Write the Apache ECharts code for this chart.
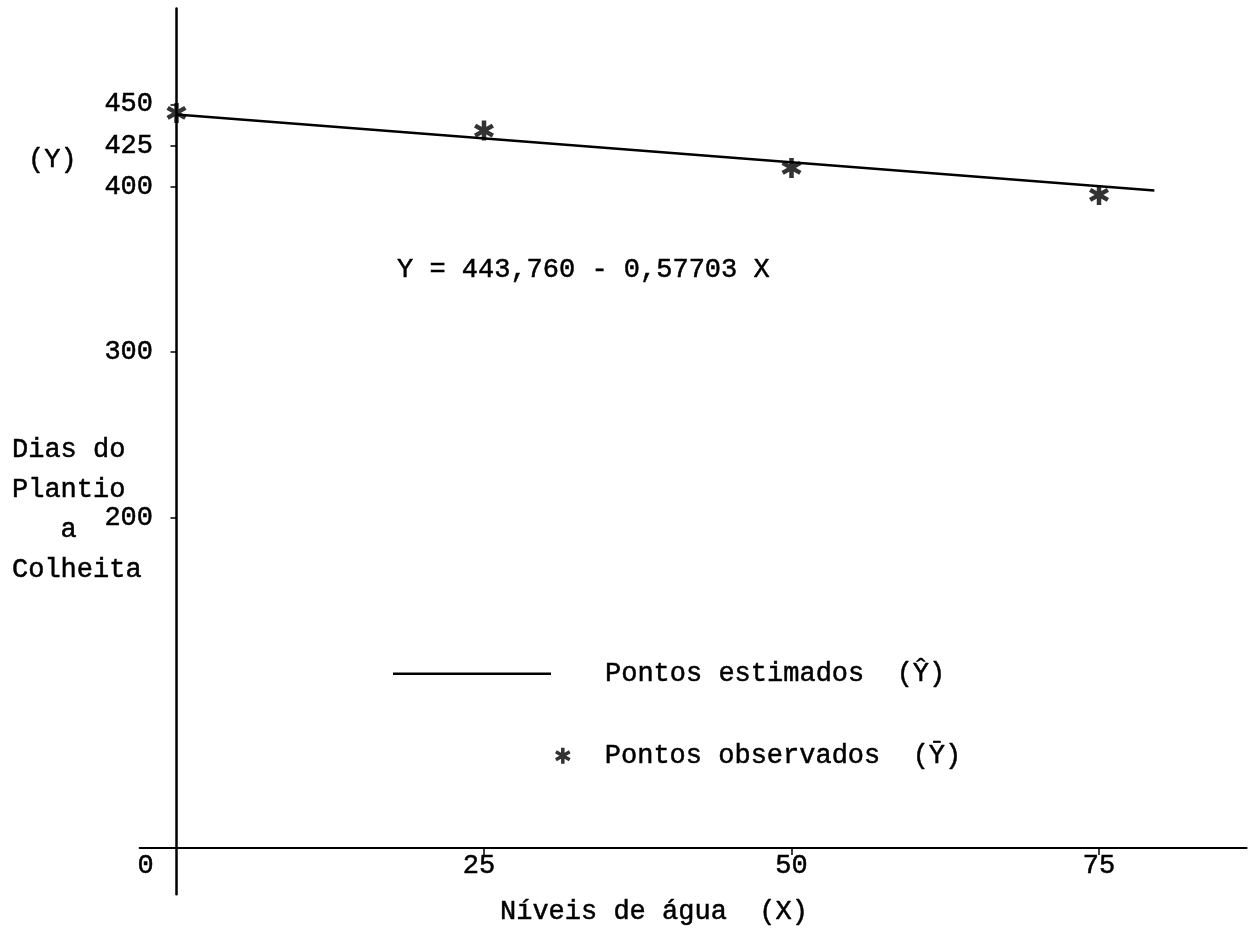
<!DOCTYPE html>
<html><head><meta charset="utf-8">
<script src="https://cdn.jsdelivr.net/npm/echarts@6/dist/echarts.min.js"></script>
<style>html,body{margin:0;padding:0;background:#fff}#c{width:1251px;height:942px}</style>
</head><body><div id="c"></div>
<script>
// ---- data ----
const xTickValues = [0, 25, 50, 75];
const yTickValues = [200, 300, 400, 425, 450];
const observedX = [0, 25, 50, 75];
const observedY = [444.8, 434.1, 411.5, 395.2];
const estimatedX = [0, 79.5];
const estimatedY = [443.8, 397.9];
const seriesNames = ['Pontos estimados  (\u0176)', 'Pontos observados  (\u0232)'];
const equationText = 'Y = 443,760 - 0,57703 X';
const xTitle = 'N\u00edveis de \u00e1gua  (X)';
const yTitleTop = '(Y)';
const yTitleLines = ['Dias do', 'Plantio', '   a', 'Colheita'];

const FONT = "'Liberation Mono', 'DejaVu Sans Mono', monospace";
const INK = '#000';
const FS = 27;
const STAR = 'path://M-2.2,10 L2.2,10 L2.2,-10 L-2.2,-10 Z M7.56,6.91 L9.76,3.09 L-7.56,-6.91 L-9.76,-3.09 Z M-9.76,3.09 L-7.56,6.91 L9.76,-3.09 L7.56,-6.91 Z';

const zip = (a, b) => a.map((v, i) => [v, b[i]]);
const ink = { fontFamily: FONT, fontSize: FS, color: INK, fontWeight: 'normal', textBorderColor: INK, textBorderWidth: 0.5 };
const txt = (extra) => Object.assign({}, ink, extra || {});

const chart = echarts.init(document.getElementById('c'), null, { renderer: 'canvas' });
chart.setOption({
  backgroundColor: '#fff',
  animation: false,
  title: [
    { text: yTitleTop, left: 28, top: 146, padding: 0, textStyle: txt() },
    { text: yTitleLines.join('\n'), left: 12, top: 430, padding: 0, textStyle: txt({ lineHeight: 40 }) },
    { text: equationText, left: 397, top: 256, padding: 0, textStyle: txt() },
    { text: xTitle, left: 500, top: 898, padding: 0, textStyle: txt() }
  ],
  legend: [
    {
      data: [{ name: seriesNames[0], icon: 'rect' }], left: 393, top: 660, padding: 0, itemWidth: 158, itemHeight: 2.5,
      selectedMode: false, formatter: n => '{a|' + n + '}',
      textStyle: txt({ rich: { a: txt({ padding: [0, 0, 0, 49] }) } })
    },
    {
      data: [seriesNames[1]], left: 555, top: 742, padding: 0, itemWidth: 16, itemHeight: 16,
      selectedMode: false, formatter: n => '{a|' + n + '}',
      textStyle: txt({ rich: { a: txt({ padding: [0, 0, 0, 29] }) } })
    }
  ],
  grid: { left: 139.6, right: 4.4, top: 8.5, bottom: 47.8, containLabel: false, outerBoundsMode: 'none' },
  xAxis: {
    type: 'value', min: -3, max: 87,
    axisLine: { show: true, onZero: true, lineStyle: { color: INK, width: 2 } },
    axisTick: { show: true, length: 7, customValues: xTickValues.filter(v => v !== 0), lineStyle: { color: INK, width: 1.5 } },
    axisLabel: Object.assign({
      customValues: xTickValues, margin: -42,
      formatter: v => v === 0 ? '{z|0}' : (v === 25 ? '{t|25}' : String(v)),
      rich: {
        z: txt({ padding: [0, 62, 0, 0] }),
        t: txt({ padding: [0, 10, 0, 0] })
      }
    }, ink),
    splitLine: { show: false }
  },
  yAxis: {
    type: 'value', min: -28, max: 508,
    axisLine: { show: true, onZero: true, lineStyle: { color: INK, width: 2.5 } },
    axisTick: { show: true, length: 6, customValues: yTickValues, lineStyle: { color: INK, width: 1.5 } },
    axisLabel: Object.assign({ customValues: yTickValues, margin: -13.4 }, ink),
    splitLine: { show: false }
  },
  series: [
    {
      name: seriesNames[0], type: 'line', data: zip(estimatedX, estimatedY),
      symbol: 'none', lineStyle: { color: INK, width: 2.5 }, itemStyle: { color: INK }, silent: true, z: 2
    },
    {
      name: seriesNames[1], type: 'scatter', data: zip(observedX, observedY),
      symbol: STAR, symbolSize: 20, itemStyle: { color: INK }, silent: true, z: 3
    }
  ]
});
</script>
</body></html>
